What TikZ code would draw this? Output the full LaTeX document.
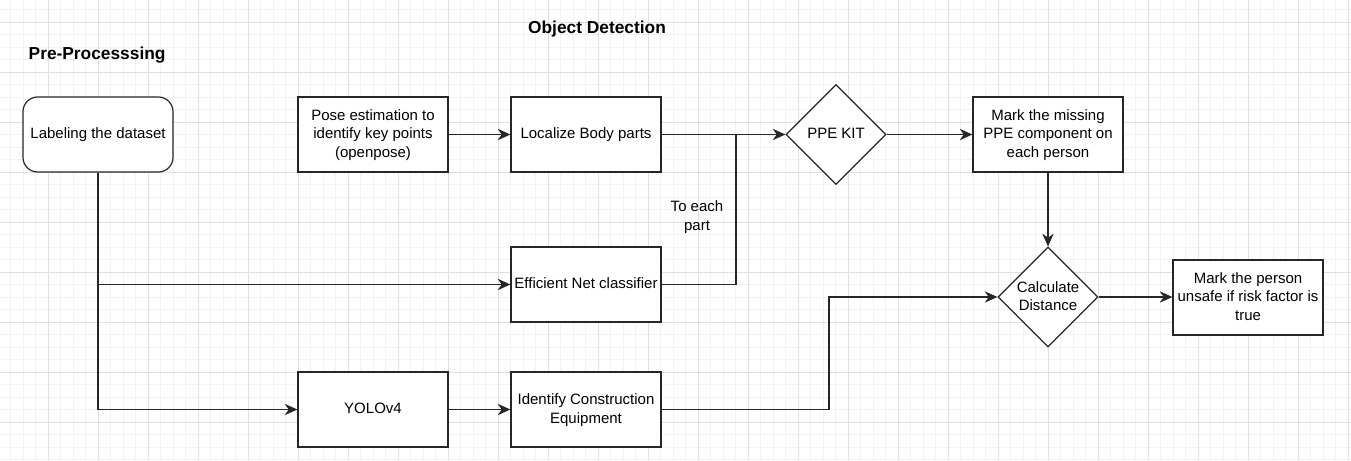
\documentclass[tikz,border=0pt]{standalone}
\usepackage{fontspec}
\setmainfont{Liberation Sans}
\usetikzlibrary{shapes.geometric,arrows.meta}
\begin{document}
\begin{tikzpicture}[x=0.75pt,y=-0.75pt,
  txt/.style={font=\fontsize{11.25}{13.75}\selectfont,align=center,text=black},
  box/.style={draw=black!85,line width=0.9pt,fill=white,minimum width=112.5pt,minimum height=56.25pt,inner sep=2pt,txt,text depth=1.6pt},
  rbox/.style={box,rounded corners=11pt},
  dia/.style={draw=black!85,line width=0.9pt,fill=white,diamond,aspect=1,minimum size=75pt,inner sep=0pt},
  title/.style={font=\fontsize{13}{15}\selectfont\bfseries,text=black},
  arr/.style={draw=black!85,line width=0.9pt,-{Stealth[length=9.5pt,width=8.5pt,inset=3pt]}},
  ln/.style={draw=black!85,line width=0.9pt},
  minorg/.style={draw=black!5,line width=0.5pt},
  majorg/.style={draw=black!12,line width=0.6pt}]
\useasboundingbox (0,0) rectangle (1351,460);
\fill[white] (0,0) rectangle (1351,460);
% grid
\foreach \x in {-2,10.5,...,1352} \draw[minorg] (\x,0) -- (\x,460);
\foreach \y in {-3,9.5,...,461} \draw[minorg] (0,\y) -- (1351,\y);
\foreach \x in {-2,48,...,1352} \draw[majorg] (\x,0) -- (\x,460);
\foreach \y in {22,72,...,461} \draw[majorg] (0,\y) -- (1351,\y);
% titles
\node[title] (t1) at (597,29) {Object Detection};
\node[title,anchor=west] (t2) at (24,55) {Pre-Processsing};
% nodes
\node[rbox] (lab) at (98,134.5) {Labeling the dataset};
\node[box] (pose) at (373,134.5) {Pose estimation to\\identify key points\\(openpose)};
\node[box] (loc) at (586,134.5) {Localize Body parts};
\node[box] (eff) at (586,284.5) {Efficient Net classifier};
\node[box] (yolo) at (373,409.5) {YOLOv4};
\node[box] (ident) at (586,409.5) {Identify Construction\\Equipment};
\node[dia,label={[txt,text depth=1.6pt]center:PPE KIT}] (ppe) at (836,134.5) {};
\node[box] (mark) at (1048,134.5) {Mark the missing\\PPE component on\\each person};
\node[dia,label={[txt,text depth=1.6pt]center:Calculate\\Distance}] (calc) at (1048,297) {};
\node[box] (unsafe) at (1248,297.5) {Mark the person\\unsafe if risk factor is\\true};
\node[txt] (lbl) at (697,217) {To each\\part};
% junctions
\coordinate (j) at (736,134.5);
\coordinate (k) at (829,297);
% connectors
\draw[arr] (lab.south) |- (yolo.west);
\draw[arr] (lab.south) |- (eff.west);
\draw[arr] (pose.east) -- (loc.west);
\draw[arr] (yolo.east) -- (ident.west);
\draw[arr] (loc.east) -- (ppe.west);
\draw[ln] (eff.east) -| (j);
\draw[arr] (ppe.east) -- (mark.west);
\draw[arr] (mark.south) -- (calc.north);
\draw[arr] (ident.east) -| (k) -- (calc.west);
\draw[arr] (calc.east) -- (unsafe.west |- calc.east);
\end{tikzpicture}
\end{document}
